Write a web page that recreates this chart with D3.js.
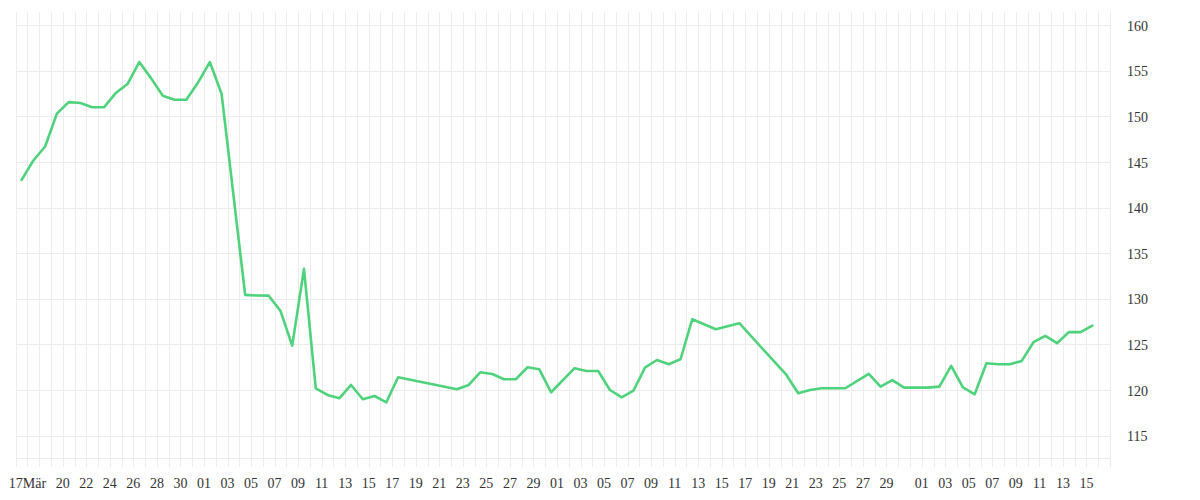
<!DOCTYPE html>
<html>
<head>
<meta charset="utf-8">
<script src="https://cdn.jsdelivr.net/npm/d3@7"></script>
<style>
html,body{margin:0;padding:0;background:#fff;}
svg{display:block;}
text{font-family:"Liberation Serif","DejaVu Serif",serif;font-size:14px;fill:#333;}
</style>
</head>
<body>
<svg id="chart" width="1200" height="500"></svg>
<script>
// ---- data ----
const dates = [
"2014-03-16","2014-03-17","2014-03-18","2014-03-19","2014-03-20","2014-03-21","2014-03-22","2014-03-23",
"2014-03-24","2014-03-25","2014-03-26","2014-03-27","2014-03-28","2014-03-29","2014-03-30","2014-03-31",
"2014-04-01","2014-04-02","2014-04-04","2014-04-05","2014-04-06","2014-04-07","2014-04-08","2014-04-09",
"2014-04-10","2014-04-11","2014-04-12","2014-04-13","2014-04-14","2014-04-15","2014-04-16","2014-04-17",
"2014-04-22","2014-04-23","2014-04-24","2014-04-25","2014-04-26","2014-04-27","2014-04-28","2014-04-29",
"2014-04-30","2014-05-02","2014-05-03","2014-05-04","2014-05-05","2014-05-06","2014-05-07","2014-05-08",
"2014-05-09","2014-05-10","2014-05-11","2014-05-12","2014-05-14","2014-05-16","2014-05-20","2014-05-21",
"2014-05-22","2014-05-23","2014-05-24","2014-05-25","2014-05-27","2014-05-28","2014-05-29","2014-05-30",
"2014-05-31","2014-06-01","2014-06-02","2014-06-03","2014-06-04","2014-06-05","2014-06-06","2014-06-07",
"2014-06-08","2014-06-09","2014-06-10","2014-06-11","2014-06-12","2014-06-13","2014-06-14","2014-06-15"
];
const values = [
143.05,145.17,146.7,150.3,151.57,151.47,151.0,151.0,
152.56,153.55,155.96,154.2,152.27,151.83,151.83,153.73,
155.96,152.45,130.44,130.37,130.35,128.68,124.87,133.29,
120.2,119.47,119.1,120.56,119.0,119.35,118.66,121.4,
120.09,120.56,121.96,121.77,121.19,121.19,122.5,122.28,
119.76,122.4,122.1,122.1,120.01,119.21,119.94,122.5,
123.3,122.83,123.38,127.77,126.67,127.33,121.66,119.65,
120.0,120.2,120.2,120.2,121.77,120.38,121.1,120.27,
120.27,120.27,120.38,122.65,120.31,119.54,122.94,122.83,
122.83,123.2,125.25,125.94,125.14,126.35,126.35,127.07
];
const tickDates = [
"2014-03-17","2014-03-20","2014-03-22","2014-03-24","2014-03-26","2014-03-28","2014-03-30",
"2014-04-01","2014-04-03","2014-04-05","2014-04-07","2014-04-09","2014-04-11","2014-04-13","2014-04-15",
"2014-04-17","2014-04-19","2014-04-21","2014-04-23","2014-04-25","2014-04-27","2014-04-29",
"2014-05-01","2014-05-03","2014-05-05","2014-05-07","2014-05-09","2014-05-11","2014-05-13","2014-05-15",
"2014-05-17","2014-05-19","2014-05-21","2014-05-23","2014-05-25","2014-05-27","2014-05-29",
"2014-06-01","2014-06-03","2014-06-05","2014-06-07","2014-06-09","2014-06-11","2014-06-13","2014-06-15"
];
const tickLabels = [
"17Mär","20","22","24","26","28","30",
"01","03","05","07","09","11","13","15","17","19","21","23","25","27","29",
"01","03","05","07","09","11","13","15","17","19","21","23","25","27","29",
"01","03","05","07","09","11","13","15"
];
const yTicks = [115,120,125,130,135,140,145,150,155,160];
const xStart = "2014-03-16", xEnd = "2014-06-17";

// ---- chart ----
(function () {
const parse = d3.utcParse("%Y-%m-%d");
const svg = d3.select("#chart");
const pLeft = 15.7, pRight = 1110, pTop = 12, pBottom = 467;

const x = d3.scaleUtc().domain([parse(xStart), parse(xEnd)]).range([pLeft, pRight]);
const y = d3.scaleLinear().domain([115, 160]).range([435.7, 25.2]);

const data = dates.map((d, i) => ({ t: d3.utcHour.offset(parse(d), 12), v: values[i] }));

// vertical daily grid
const days = d3.utcDay.range(parse(xStart), d3.utcDay.offset(parse(xEnd), 1));
svg.append("g").selectAll("line").data(days).join("line")
  .attr("x1", d => Math.round(x(d)) + 0.5).attr("x2", d => Math.round(x(d)) + 0.5)
  .attr("y1", pTop).attr("y2", pBottom)
  .attr("stroke", "#ececec").attr("stroke-width", 1);

// horizontal grid
svg.append("g").selectAll("line").data(yTicks).join("line")
  .attr("x1", pLeft).attr("x2", pRight)
  .attr("y1", d => Math.round(y(d)) + 0.5).attr("y2", d => Math.round(y(d)) + 0.5)
  .attr("stroke", "#ececec").attr("stroke-width", 1);

// axis baseline
svg.append("line").attr("x1", pLeft).attr("x2", pRight)
  .attr("y1", 458.5).attr("y2", 458.5).attr("stroke", "#ececec");

// y labels (right)
svg.append("g").selectAll("text").data(yTicks).join("text")
  .attr("x", 1127).attr("y", d => y(d) + 5.5)
  .attr("text-anchor", "start")
  .text(d => d);

// x labels
const tickPairs = tickDates.map((d, i) => ({ t: parse(d), l: tickLabels[i] }));
svg.append("g").selectAll("text").data(tickPairs).join("text")
  .attr("x", d => x(d.t)).attr("y", 488)
  .attr("text-anchor", "middle")
  .text(d => d.l);

// line
const line = d3.line().x(d => x(d.t)).y(d => y(d.v));
svg.append("path").datum(data)
  .attr("d", line)
  .attr("fill", "none")
  .attr("stroke", "#4fd27c")
  .attr("stroke-width", 2.6)
  .attr("stroke-linejoin", "round")
  .attr("stroke-linecap", "round");
})();
</script>
</body>
</html>
